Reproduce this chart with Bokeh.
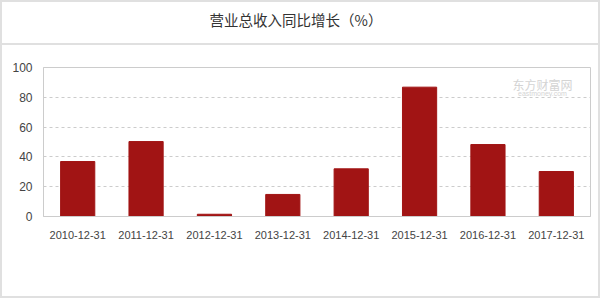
from bokeh.plotting import figure
from bokeh.layouts import column
from bokeh.models import Label, FactorRange, FixedTicker, Range1d, Div
from bokeh.embed import file_html
from bokeh.resources import INLINE

categories = ["2010-12-31", "2011-12-31", "2012-12-31", "2013-12-31",
              "2014-12-31", "2015-12-31", "2016-12-31", "2017-12-31"]
growth = [36.9, 50.3, 1.5, 14.8, 32.0, 86.8, 48.3, 30.2]
y_ticks = [0, 20, 40, 60, 80, 100]
title_text = "营业总收入同比增长（%）"
brand_cn = "东方财富网"
brand_en = "eastmoney.com"

# page: 2px border around 596x294 content; heading strip 43px tall,
# chart canvas below it (page y 45..296)
W = 596
HEAD = 43
H = 294 - HEAD
# frame in chart-canvas coordinates
FL, FR, FT, FB = 41, 588, 22, 171

heading = Div(text=title_text, width=W, height=HEAD, margin=(0, 0, 0, 0), styles={
    "text-align": "center",
    "text-indent": "-8px",
    "line-height": "36px",
    "font-family": "'Noto Sans CJK SC'",
    "font-size": "14.5px",
    "color": "#333333",
})

p = figure(width=W, height=H, x_range=FactorRange(*categories),
           y_range=Range1d(0, 100), output_backend="svg", toolbar_location=None,
           min_border_left=FL, min_border_right=W - FR, min_border_top=FT,
           min_border_bottom=H - FB, margin=(0, 0, 0, 0))
p.background_fill_color = "white"
p.border_fill_color = "white"

p.vbar(x=categories, top=growth, width=0.5, color="#a11414")

# axes
p.x_range.range_padding = 0
p.yaxis.ticker = FixedTicker(ticks=y_ticks)
for ax in (p.xaxis, p.yaxis):
    ax.axis_line_color = "#cccccc"
    ax.major_tick_line_color = None
    ax.minor_tick_line_color = None
    ax.major_label_text_color = "#444444"
    ax.major_label_text_font = "Liberation Sans"
p.xaxis.major_label_text_font_size = "11px"
p.yaxis.major_label_text_font_size = "12px"
p.xaxis.major_label_standoff = 8
p.yaxis.major_label_standoff = 5

p.xgrid.grid_line_color = None
p.ygrid.grid_line_color = "#cccccc"
p.ygrid.grid_line_dash = "3 3"
p.outline_line_color = "#cccccc"


def sx(x):
    return x - FL


def sy(y):
    return FB - y


# brand mark (chart-canvas coordinates)
p.add_layout(Label(x=sx(540), y=sy(39), x_units="screen", y_units="screen",
                   text=brand_cn, text_align="center", text_baseline="middle",
                   text_font="Noto Sans CJK SC", text_font_size="12px",
                   text_color="#d4d4d4"))
p.add_layout(Label(x=sx(540), y=sy(48), x_units="screen", y_units="screen",
                   text=brand_en, text_align="center", text_baseline="middle",
                   text_font="Liberation Sans", text_font_size="7px",
                   text_color="#d4d4d4"))

# page frame: light grey border and a rule under the heading
page = column(heading, p, spacing=0, styles={
    "border": "2px solid #e0e0e0",
    "background": "linear-gradient(#e0e0e0, #e0e0e0) 0 41px / 100% 2px no-repeat, white",
})

open("out.html", "w").write(file_html(page, INLINE))
